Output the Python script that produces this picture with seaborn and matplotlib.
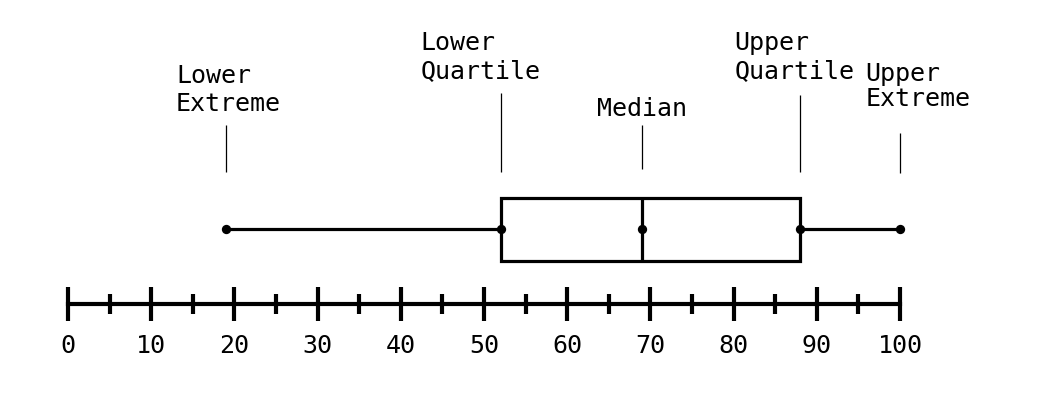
import numpy as np
import matplotlib
matplotlib.use("Agg")
import matplotlib.pyplot as plt
import seaborn as sns

# ---- data ----
stat_names = ["Lower\nExtreme", "Lower\nQuartile", "Median", "Upper\nQuartile", "Upper\nExtreme"]
stat_values = [19, 52, 69, 88, 100]
major_ticks = [0, 10, 20, 30, 40, 50, 60, 70, 80, 90, 100]
minor_ticks = [5, 15, 25, 35, 45, 55, 65, 75, 85, 95]

# ---- layout (pixel based) ----
W, H = 1045, 407
X0_PX, X100_PX = 68, 900
PPU = (X100_PX - X0_PX) / 100.0
Y_CENTER_PX = 229
def ypx(p):
    return (p - Y_CENTER_PX) / 100.0

# label layout: (dx px, cap-top px, ha, linespacing, leader top px, leader bottom px)
label_layout = [
    (-50, 64, "left", 1.2, 125, 172),
    (-80, 31, "left", 1.2, 93, 172),
    (0, 97, "center", 1.2, 125, 169),
    (-66, 31, "left", 1.2, 95, 172),
    (18, 62, "center", 1.05, 133, 173),
]

sns.set_theme(style="white")
plt.rcParams["font.family"] = ["DejaVu Sans Mono", "DejaVu Sans"]

fig = plt.figure(figsize=(W / 100, H / 100), dpi=100)
ax = fig.add_axes([0, 0, 1, 1])

sns.boxplot(x=stat_values, orient="h", width=0.63, whis=(0, 100),
            color="white", linecolor="black", linewidth=2.3,
            showcaps=False, ax=ax,
            medianprops=dict(color="black", linewidth=2.3))
sns.scatterplot(x=stat_values, y=[0] * len(stat_values), color="black",
                s=45, edgecolor="black", linewidth=0, zorder=5, ax=ax)

for (name, val, (dx, top, ha, ls, lt, lb)) in zip(stat_names, stat_values, label_layout):
    ax.vlines(val, ypx(lt), ypx(lb), color="black", linewidth=0.9)
    ax.text(val + dx / PPU, ypx(top), name, ha=ha, va="top",
            multialignment="left", fontsize=18, linespacing=ls, color="black")

ax.set_xlim(-X0_PX / PPU, (W - X0_PX) / PPU)
ax.set_ylim(ypx(H), ypx(0))

for s in ["top", "left", "right"]:
    ax.spines[s].set_visible(False)
ax.spines["bottom"].set_position(("data", ypx(304)))
ax.spines["bottom"].set_bounds(0, 100)
ax.spines["bottom"].set_linewidth(3.0)
ax.spines["bottom"].set_color("black")

ax.set_xticks(major_ticks)
ax.set_xticklabels([str(t) for t in major_ticks], fontsize=18)
ax.set_xticks(minor_ticks, minor=True)
ax.tick_params(axis="x", which="major", direction="inout", length=25, width=3,
               color="black", pad=9, labelcolor="black", bottom=True)
ax.tick_params(axis="x", which="minor", direction="inout", length=14.5, width=3,
               color="black", bottom=True)
ax.set_yticks([])
ax.set_ylabel("")
ax.set_xlabel("")

fig.savefig("out.png", dpi=100, facecolor="white")
